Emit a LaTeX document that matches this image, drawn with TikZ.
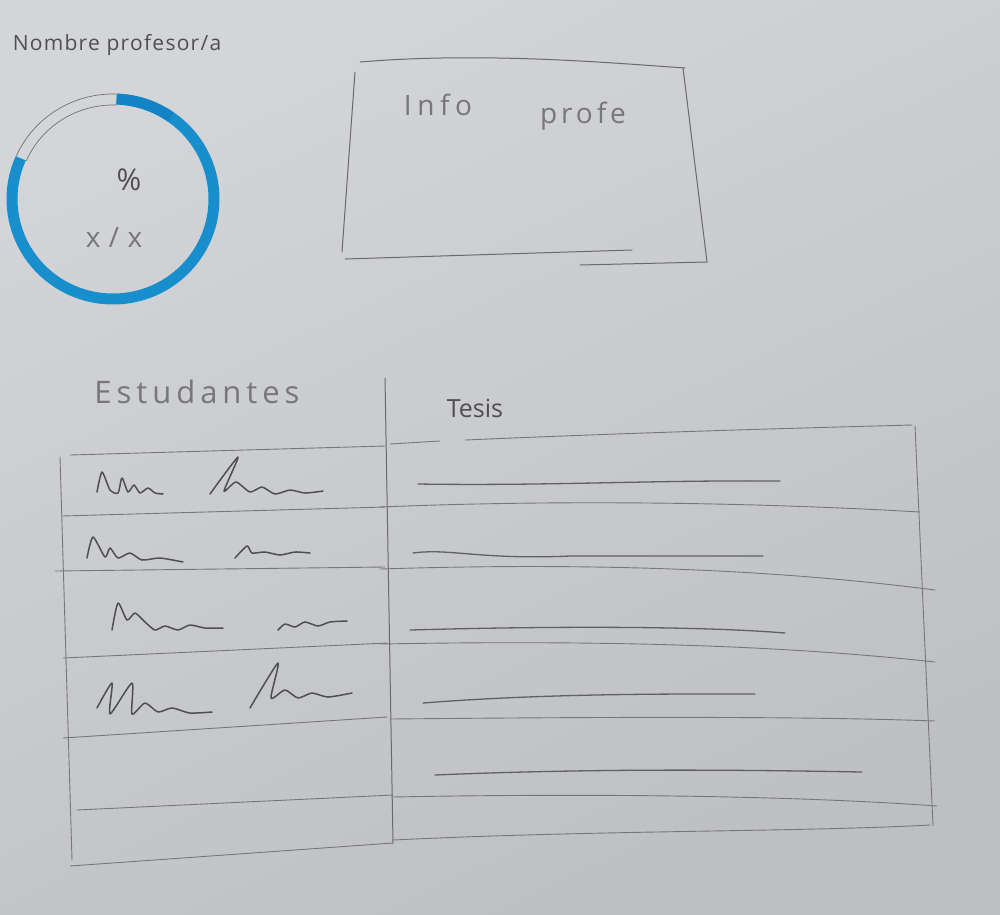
\documentclass[tikz,border=0pt]{standalone}
\usepackage{fontspec}
\setmainfont{Open Sans}
\definecolor{papertop}{RGB}{212,213,216}
\definecolor{paperbot}{RGB}{190,191,195}
\definecolor{pencil}{RGB}{78,78,84}
\definecolor{pencillight}{RGB}{118,118,124}
\definecolor{marker}{RGB}{24,142,204}
\definecolor{markerdark}{RGB}{14,122,190}
\begin{document}
\begin{tikzpicture}[x=1pt,y=-1pt,
  rule/.style={draw=pencillight, line width=0.9pt, line cap=round, line join=round},
  frame/.style={draw=pencil!85!white, line width=1pt, line cap=round, line join=round},
  scribble/.style={draw=pencil, line width=1.5pt, line cap=round, line join=round},
  stroke/.style={draw=pencil!90!white, line width=1.3pt, line cap=round},
  hand/.style={text=pencil, inner sep=0pt},
  handlight/.style={text=pencillight, inner sep=0pt}]

% paper
\useasboundingbox (0,0) rectangle (1000,914);
\shade[top color=papertop, bottom color=paperbot, shading angle=25] (0,0) rectangle (1000,914);

% title
\node[hand, font=\fontsize{21}{24}\selectfont\addfontfeatures{LetterSpace=6}] (title) at (117,45) {Nombre profesor/a};

% progress ring
\coordinate (ring) at (113,199);
\draw[marker, line width=11pt] ([shift={(-88:101 and 100)}]ring) arc[start angle=-88, end angle=204, x radius=101, y radius=100];
\draw[markerdark, line width=11pt, opacity=0.5] ([shift={(-88:101 and 100)}]ring) arc[start angle=-88, end angle=-55, x radius=101, y radius=100];
\draw[pencil!80!white, line width=0.7pt] ([shift={(204:106 and 105)}]ring) arc[start angle=204, end angle=272, x radius=106, y radius=105];
\draw[pencil!80!white, line width=0.7pt] ([shift={(204:95 and 94)}]ring) arc[start angle=204, end angle=272, x radius=95, y radius=94];
\node[hand, font=\fontsize{30}{34}\selectfont] (pct) at (129,180) {\%};
\node[handlight, font=\fontsize{28}{32}\selectfont\addfontfeatures{LetterSpace=30}] (frac) at (114,237) {x/x};

% info box
\draw[frame] (360,62) .. controls (480,52) and (600,62) .. (685,68);
\draw[frame] (683,68) -- (707,262);
\draw[frame] (580,265) -- (707,262);
\draw[frame] (345,259) -- (632,250);
\draw[frame] (355,72) -- (342,252);
\node[handlight, font=\fontsize{28}{32}\selectfont\addfontfeatures{LetterSpace=20}] (info) at (438,105) {Info};
\node[handlight, font=\fontsize{28}{32}\selectfont\addfontfeatures{LetterSpace=14}] (profe) at (583,116) {profe};

% table headers
\node[handlight, font=\fontsize{31}{34}\selectfont\addfontfeatures{LetterSpace=16}] (estud) at (197,392) {Estudantes};
\node[hand, font=\fontsize{25}{28}\selectfont] (tesis) at (475,408) {Tesis};

% table frame
\draw[frame] (385,378) -- (393,843);
\draw[rule] (60,457) -- (72,860);
\draw[rule] (915,426) -- (933,826);
% row rules, left half
\draw[rule] (70,455) -- (385,446);
\draw[rule] (62,516) -- (385,507);
\draw[rule] (55,571) -- (385,567);
\draw[rule] (63,658) -- (387,643);
\draw[rule] (63,738) -- (387,717);
\draw[rule] (77,810) -- (393,795);
\draw[rule] (70,866) -- (393,843);
% row rules, right half
\draw[rule] (390,444) -- (440,441);
\draw[rule] (465,440) .. controls (650,432) and (800,428) .. (912,425);
\draw[rule] (380,507) .. controls (600,498) and (800,505) .. (920,512);
\draw[rule] (380,569) .. controls (600,562) and (780,570) .. (935,590);
\draw[rule] (380,644) .. controls (600,640) and (780,645) .. (935,662);
\draw[rule] (390,719) .. controls (600,717) and (800,716) .. (935,721);
\draw[rule] (392,797) .. controls (600,793) and (800,796) .. (937,806);
\draw[rule] (393,840) .. controls (600,830) and (800,832) .. (930,825);

% student names (scribbled)
\draw[scribble] plot[smooth, tension=0.4] coordinates {(97,492) (102,472) (110,490) (118,493) (122,478) (128,492) (134,485) (140,493) (148,488) (155,493) (163,494)};
\draw[scribble] plot[smooth, tension=0.4] coordinates {(210,494) (238,457) (224,491) (236,482) (250,492) (262,487) (275,494) (290,490) (305,493) (323,491)};
\draw[scribble] plot[smooth, tension=0.4] coordinates {(87,558) (93,537) (105,557) (110,548) (118,558) (130,553) (142,560) (160,558) (183,562)};
\draw[scribble] plot[smooth, tension=0.4] coordinates {(235,558) (247,546) (252,553) (265,552) (280,555) (295,552) (310,553)};
\draw[scribble] plot[smooth, tension=0.4] coordinates {(112,630) (118,603) (127,620) (135,613) (145,622) (155,630) (165,626) (178,630) (190,625) (205,628) (223,628)};
\draw[scribble] plot[smooth, tension=0.4] coordinates {(278,630) (285,624) (295,627) (305,622) (318,626) (330,622) (347,621)};
\draw[scribble] plot[smooth, tension=0.4] coordinates {(97,708) (112,683) (110,714) (132,683) (132,714) (145,703) (158,712) (172,708) (190,713) (212,712)};
\draw[scribble] plot[smooth, tension=0.4] coordinates {(250,708) (278,663) (271,698) (285,690) (298,698) (312,693) (328,697) (352,693)};

% thesis titles (lines)
\draw[stroke] (418,484) .. controls (550,486) and (650,480) .. (780,481);
\draw[stroke] (413,553) .. controls (450,548) and (480,560) .. (570,556) -- (763,556);
\draw[stroke] (410,630) .. controls (550,626) and (700,626) .. (785,633);
\draw[stroke] (423,703) .. controls (550,693) and (680,694) .. (755,694);
\draw[stroke] (435,775) .. controls (600,768) and (750,770) .. (862,772);
\end{tikzpicture}
\end{document}
